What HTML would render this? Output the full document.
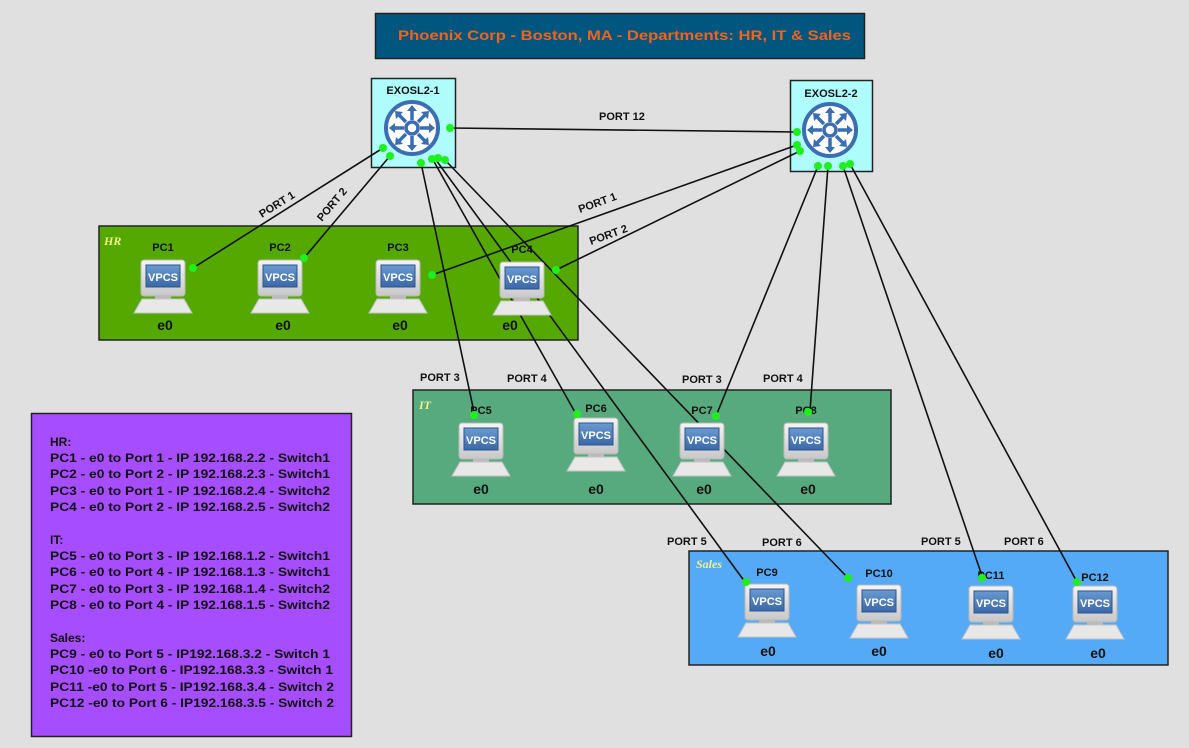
<!DOCTYPE html>
<html><head><meta charset="utf-8"><style>
html,body{margin:0;padding:0;background:#e0e0e0;}
svg{display:block;font-family:"Liberation Sans",sans-serif;}
.lbl{font-size:11px;font-weight:bold;fill:#111;}
.pc{font-size:11px;font-weight:bold;fill:#111;text-anchor:middle;}
.e0{font-size:14px;font-weight:bold;fill:#111;text-anchor:middle;}
.vp{font-size:11px;font-weight:bold;fill:#fff;text-anchor:middle;}
.leg{font-size:12px;font-weight:bold;fill:#111;}
</style></head><body>
<svg width="1189" height="748" viewBox="0 0 1189 748" xmlns="http://www.w3.org/2000/svg">
<defs>
<linearGradient id="mon" x1="0" y1="0" x2="0" y2="1"><stop offset="0" stop-color="#f4f4f4"/><stop offset="1" stop-color="#c8c8c8"/></linearGradient>
<linearGradient id="scr" x1="0" y1="0" x2="0" y2="1"><stop offset="0" stop-color="#6a9ad0"/><stop offset="1" stop-color="#3a68a8"/></linearGradient>
<g id="pcg">
<rect x="-22" y="0" width="44" height="36" rx="3" fill="url(#mon)" stroke="#b8b8b8"/>
<rect x="-17" y="5" width="34" height="22" fill="url(#scr)" stroke="#2d5590"/>
<rect x="-8" y="36" width="16" height="3" fill="#bbb"/>
<polygon points="-21,39 21,39 29,53 -29,53" fill="#e8e8e8" stroke="#c4c4c4"/>
</g>
<g id="sw">
<circle r="26" fill="#fff" stroke="#3b6db5" stroke-width="4"/>
<g stroke="#3b6db5" stroke-width="3.5" fill="none">
<circle r="6"/>
<path d="M0,-8V-19M0,8V19M-8,0H-19M8,0H19M6,-6L14,-14M-6,-6L-14,-14M6,6L14,14M-6,6L-14,14"/>
</g>
<g fill="#3b6db5">
<path d="M0,-23l-5,6h10z"/><path d="M0,23l-5,-6h10z"/><path d="M-23,0l6,-5v10z"/><path d="M23,0l-6,-5v10z"/>
<path d="M17,-17l-8,1l7,7z"/><path d="M-17,-17l8,1l-7,7z"/><path d="M17,17l-8,-1l7,-7z"/><path d="M-17,17l8,-1l-7,-7z"/>
</g>
</g>
</defs>

<rect x="375.5" y="13.5" width="489" height="45" fill="#01567f" stroke="#222" stroke-width="1.5"/>
<text x="398" y="40" font-size="14" font-weight="bold" fill="#f5621a" textLength="453" lengthAdjust="spacingAndGlyphs">Phoenix Corp - Boston, MA - Departments: HR, IT &amp; Sales</text>

<rect x="99" y="226" width="479" height="114" fill="#54a800" stroke="#222" stroke-width="1.5"/>
<text x="104" y="245" font-family="Liberation Serif" font-style="italic" font-weight="bold" font-size="12" fill="#f2f08a">HR</text>
<rect x="413" y="390" width="478" height="114" fill="#57aa7e" stroke="#222" stroke-width="1.5"/>
<text x="419" y="409" font-family="Liberation Serif" font-style="italic" font-weight="bold" font-size="12" fill="#f2f08a">IT</text>
<rect x="689" y="551" width="479" height="114" fill="#55aaf7" stroke="#222" stroke-width="1.5"/>
<text x="696" y="568" font-family="Liberation Serif" font-style="italic" font-weight="bold" font-size="12" fill="#f2f08a">Sales</text>

<rect x="31.5" y="413.5" width="320" height="323" fill="#a64dff" stroke="#222" stroke-width="1.5"/>
<g class="leg">
<text x="50" y="446">HR:</text>
<text x="50" y="462" textLength="280" lengthAdjust="spacingAndGlyphs">PC1 - e0 to Port 1 - IP 192.168.2.2 - Switch1</text>
<text x="50" y="478" textLength="280" lengthAdjust="spacingAndGlyphs">PC2 - e0 to Port 2 - IP 192.168.2.3 - Switch1</text>
<text x="50" y="495" textLength="280" lengthAdjust="spacingAndGlyphs">PC3 - e0 to Port 1 - IP 192.168.2.4 - Switch2</text>
<text x="50" y="511" textLength="280" lengthAdjust="spacingAndGlyphs">PC4 - e0 to Port 2 - IP 192.168.2.5 - Switch2</text>
<text x="50" y="544">IT:</text>
<text x="50" y="560" textLength="280" lengthAdjust="spacingAndGlyphs">PC5 - e0 to Port 3 - IP 192.168.1.2 - Switch1</text>
<text x="50" y="576" textLength="280" lengthAdjust="spacingAndGlyphs">PC6 - e0 to Port 4 - IP 192.168.1.3 - Switch1</text>
<text x="50" y="593" textLength="280" lengthAdjust="spacingAndGlyphs">PC7 - e0 to Port 3 - IP 192.168.1.4 - Switch2</text>
<text x="50" y="609" textLength="280" lengthAdjust="spacingAndGlyphs">PC8 - e0 to Port 4 - IP 192.168.1.5 - Switch2</text>
<text x="50" y="642">Sales:</text>
<text x="50" y="658" textLength="280" lengthAdjust="spacingAndGlyphs">PC9 - e0 to Port 5 - IP192.168.3.2 - Switch 1</text>
<text x="50" y="674" textLength="283" lengthAdjust="spacingAndGlyphs">PC10 -e0 to Port 6 - IP192.168.3.3 - Switch 1</text>
<text x="50" y="691" textLength="284" lengthAdjust="spacingAndGlyphs">PC11 -e0 to Port 5 - IP192.168.3.4 - Switch 2</text>
<text x="50" y="707" textLength="284" lengthAdjust="spacingAndGlyphs">PC12 -e0 to Port 6 - IP192.168.3.5 - Switch 2</text>
</g>

<rect x="371.5" y="78.5" width="84" height="89" fill="#aefcfc" stroke="#222" stroke-width="1.5"/>
<text x="413" y="94" class="pc" font-size="11">EXOSL2-1</text>
<use href="#sw" x="412" y="128"/>
<rect x="790.5" y="80.5" width="82" height="91" fill="#aefcfc" stroke="#222" stroke-width="1.5"/>
<text x="831" y="97" class="pc" font-size="11">EXOSL2-2</text>
<use href="#sw" x="830" y="130"/>

<g stroke="#111" stroke-width="1.6">
<line x1="383" y1="148" x2="193" y2="268"/>
<line x1="390" y1="156" x2="304" y2="258"/>
<line x1="450" y1="128" x2="797" y2="132"/>
<line x1="797" y1="145" x2="432" y2="275"/>
<line x1="800" y1="151" x2="556" y2="270"/>
<line x1="421" y1="163" x2="474" y2="412"/>
<line x1="432" y1="158" x2="576" y2="414"/>
<line x1="436" y1="160" x2="745" y2="582"/>
<line x1="445" y1="160" x2="848" y2="578"/>
<line x1="818" y1="166" x2="716" y2="416"/>
<line x1="828" y1="166" x2="810" y2="411"/>
<line x1="843" y1="166" x2="982" y2="576"/>
<line x1="850" y1="164" x2="1077" y2="582"/>
</g>

<g>
<use href="#pcg" x="163" y="260"/><text class="vp" x="163" y="281">VPCS</text><text class="pc" x="163" y="251">PC1</text><text class="e0" x="165" y="330">e0</text>
<use href="#pcg" x="280" y="260"/><text class="vp" x="280" y="281">VPCS</text><text class="pc" x="280" y="251">PC2</text><text class="e0" x="283" y="330">e0</text>
<use href="#pcg" x="398" y="260"/><text class="vp" x="398" y="281">VPCS</text><text class="pc" x="398" y="251">PC3</text><text class="e0" x="400" y="330">e0</text>
<use href="#pcg" x="522" y="262"/><text class="vp" x="522" y="283">VPCS</text><text class="pc" x="522" y="253">PC4</text><text class="e0" x="510" y="330">e0</text>
<use href="#pcg" x="481" y="423"/><text class="vp" x="481" y="444">VPCS</text><text class="pc" x="481" y="414">PC5</text><text class="e0" x="481" y="494">e0</text>
<use href="#pcg" x="596" y="418"/><text class="vp" x="596" y="439">VPCS</text><text class="pc" x="596" y="412">PC6</text><text class="e0" x="596" y="494">e0</text>
<use href="#pcg" x="702" y="423"/><text class="vp" x="702" y="444">VPCS</text><text class="pc" x="702" y="414">PC7</text><text class="e0" x="704" y="494">e0</text>
<use href="#pcg" x="806" y="423"/><text class="vp" x="806" y="444">VPCS</text><text class="pc" x="806" y="414">PC8</text><text class="e0" x="808" y="494">e0</text>
<use href="#pcg" x="767" y="584"/><text class="vp" x="767" y="605">VPCS</text><text class="pc" x="767" y="576">PC9</text><text class="e0" x="768" y="656">e0</text>
<use href="#pcg" x="879" y="585"/><text class="vp" x="879" y="606">VPCS</text><text class="pc" x="879" y="577">PC10</text><text class="e0" x="879" y="656">e0</text>
<use href="#pcg" x="991" y="586"/><text class="vp" x="991" y="607">VPCS</text><text class="pc" x="991" y="579">PC11</text><text class="e0" x="996" y="658">e0</text>
<use href="#pcg" x="1095" y="586"/><text class="vp" x="1095" y="607">VPCS</text><text class="pc" x="1095" y="581">PC12</text><text class="e0" x="1098" y="658">e0</text>
</g>

<g fill="#1ef01e">
<circle cx="383" cy="148" r="4"/><circle cx="390" cy="156" r="4"/><circle cx="450" cy="128" r="4"/>
<circle cx="421" cy="163" r="4"/><circle cx="432" cy="159" r="4"/><circle cx="438" cy="158" r="4"/><circle cx="445" cy="160" r="4"/>
<circle cx="797" cy="132" r="4"/><circle cx="797" cy="145" r="4"/><circle cx="800" cy="151" r="4"/>
<circle cx="818" cy="166" r="4"/><circle cx="828" cy="166" r="4"/><circle cx="843" cy="166" r="4"/><circle cx="850" cy="164" r="4"/>
<circle cx="193" cy="268" r="4"/><circle cx="304" cy="258" r="4"/><circle cx="432" cy="275" r="4"/><circle cx="556" cy="270" r="4"/>
<circle cx="474" cy="415" r="4"/><circle cx="577" cy="414" r="4"/><circle cx="716" cy="416" r="4"/><circle cx="808" cy="412" r="4"/>
<circle cx="746" cy="582" r="4"/><circle cx="848" cy="578" r="4"/><circle cx="982" cy="578" r="4"/><circle cx="1077" cy="582" r="4"/>
</g>

<g class="lbl">
<text x="262" y="218" transform="rotate(-32 262 218)">PORT 1</text>
<text x="322" y="222" transform="rotate(-50 322 222)">PORT 2</text>
<text x="599" y="120">PORT 12</text>
<text x="580" y="213" transform="rotate(-20 580 213)">PORT 1</text>
<text x="591" y="245" transform="rotate(-20 591 245)">PORT 2</text>
<text x="420" y="381">PORT 3</text>
<text x="507" y="382">PORT 4</text>
<text x="682" y="383">PORT 3</text>
<text x="763" y="382">PORT 4</text>
<text x="667" y="545">PORT 5</text>
<text x="762" y="546">PORT 6</text>
<text x="921" y="545">PORT 5</text>
<text x="1004" y="545">PORT 6</text>
</g>
</svg>
</body></html>
